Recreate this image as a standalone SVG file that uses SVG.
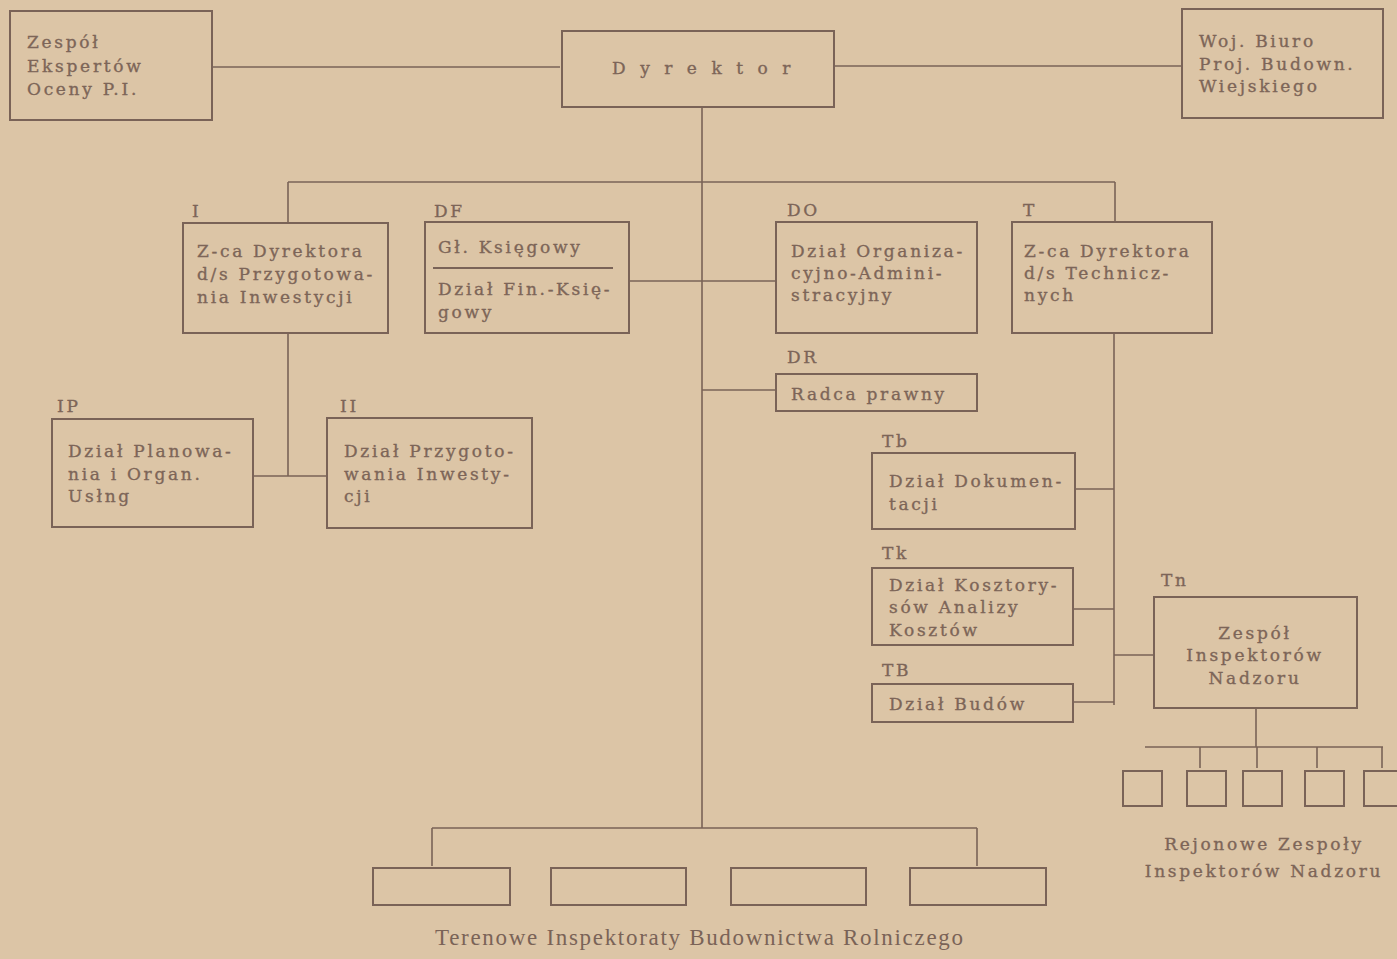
<svg xmlns="http://www.w3.org/2000/svg" width="1397" height="959" viewBox="0 0 1397 959">
<style>
.b{fill:none;stroke:#7a6357;stroke-width:2}
.c{fill:none;stroke:#7a6357;stroke-width:1.6}
.t{font-family:"DejaVu Serif","Liberation Serif",serif;font-size:17px;fill:#7d6558;stroke:#7d6558;stroke-width:0.35;letter-spacing:2.7px}
.m{text-anchor:middle}
</style>
<rect x="0" y="0" width="1397" height="959" fill="#dcc5a6"/>
<g id="connectors" class="c">
<path d="M212 67H560"/>
<path d="M834 66H1182"/>
<path d="M702 107V828"/>
<path d="M288 182H1115"/>
<path d="M288 182V222M1115 182V222"/>
<path d="M629 281H777"/>
<path d="M702 390H776"/>
<path d="M288 333V476M253 476H327"/>
<path d="M1114 333V705"/>
<path d="M1075 489H1114M1073 609H1114M1073 702H1114M1114 655H1154"/>
<path d="M1256 708V747M1145 747H1383"/>
<path d="M1200 747V768M1257 747V768M1317 747V768M1382 747V768"/>
<path d="M432 828H977M432 828V866M977 828V866"/>
</g>
<g id="zespol-ekspertow">
<rect class="b" x="10" y="11" width="202" height="109"/>
<text class="t" x="27" y="48">Zespół</text>
<text class="t" x="27" y="72">Ekspertów</text>
<text class="t" x="27" y="95">Oceny P.I.</text>
</g>
<g id="dyrektor">
<rect class="b" x="562" y="31" width="272" height="76"/>
<text class="t" x="612" y="74" style="letter-spacing:14.5px">Dyrektor</text>
</g>
<g id="woj-biuro">
<rect class="b" x="1182" y="9" width="201" height="109"/>
<text class="t" x="1199" y="47">Woj. Biuro</text>
<text class="t" x="1199" y="70">Proj. Budown.</text>
<text class="t" x="1199" y="92">Wiejskiego</text>
</g>
<g id="I">
<text class="t" x="192" y="217">I</text>
<rect class="b" x="183" y="223" width="205" height="110"/>
<text class="t" x="197" y="257">Z-ca Dyrektora</text>
<text class="t" x="197" y="280">d/s Przygotowa-</text>
<text class="t" x="197" y="303">nia Inwestycji</text>
</g>
<g id="DF">
<text class="t" x="434" y="217">DF</text>
<rect class="b" x="425" y="222" width="204" height="111"/>
<path class="b" d="M433 268H613"/>
<text class="t" x="438" y="253">Gł. Księgowy</text>
<text class="t" x="438" y="295">Dział Fin.-Księ-</text>
<text class="t" x="438" y="318">gowy</text>
</g>
<g id="DO">
<text class="t" x="787" y="216">DO</text>
<rect class="b" x="776" y="222" width="201" height="111"/>
<text class="t" x="791" y="257">Dział Organiza-</text>
<text class="t" x="791" y="279">cyjno-Admini-</text>
<text class="t" x="791" y="301">stracyjny</text>
</g>
<g id="T">
<text class="t" x="1023" y="216">T</text>
<rect class="b" x="1012" y="222" width="200" height="111"/>
<text class="t" x="1024" y="257">Z-ca Dyrektora</text>
<text class="t" x="1024" y="279">d/s Technicz-</text>
<text class="t" x="1024" y="301">nych</text>
</g>
<g id="DR">
<text class="t" x="787" y="363">DR</text>
<rect class="b" x="776" y="374" width="201" height="37"/>
<text class="t" x="791" y="400">Radca prawny</text>
</g>
<g id="IP">
<text class="t" x="57" y="412">IP</text>
<rect class="b" x="52" y="419" width="201" height="108"/>
<text class="t" x="68" y="457">Dział Planowa-</text>
<text class="t" x="68" y="480">nia i Organ.</text>
<text class="t" x="68" y="502">Usłng</text>
</g>
<g id="II">
<text class="t" x="340" y="412">II</text>
<rect class="b" x="327" y="418" width="205" height="110"/>
<text class="t" x="344" y="457">Dział Przygoto-</text>
<text class="t" x="344" y="480">wania Inwesty-</text>
<text class="t" x="344" y="502">cji</text>
</g>
<g id="Tb">
<text class="t" x="882" y="447">Tb</text>
<rect class="b" x="872" y="453" width="203" height="76"/>
<text class="t" x="889" y="487">Dział Dokumen-</text>
<text class="t" x="889" y="510">tacji</text>
</g>
<g id="Tk">
<text class="t" x="882" y="559">Tk</text>
<rect class="b" x="872" y="568" width="201" height="77"/>
<text class="t" x="889" y="591">Dział Kosztory-</text>
<text class="t" x="889" y="613">sów Analizy</text>
<text class="t" x="889" y="636">Kosztów</text>
</g>
<g id="TB">
<text class="t" x="882" y="676">TB</text>
<rect class="b" x="872" y="684" width="201" height="38"/>
<text class="t" x="889" y="710">Dział Budów</text>
</g>
<g id="Tn">
<text class="t" x="1161" y="586">Tn</text>
<rect class="b" x="1154" y="597" width="203" height="111"/>
<text class="t m" x="1255" y="639">Zespół</text>
<text class="t m" x="1255" y="661">Inspektorów</text>
<text class="t m" x="1255" y="684">Nadzoru</text>
</g>
<g id="rejonowe">
<rect class="b" x="1123" y="771" width="39" height="35"/>
<rect class="b" x="1187" y="771" width="39" height="35"/>
<rect class="b" x="1243" y="771" width="39" height="35"/>
<rect class="b" x="1305" y="771" width="39" height="35"/>
<rect class="b" x="1364" y="771" width="39" height="35"/>
<text class="t m" x="1264" y="850">Rejonowe Zespoły</text>
<text class="t m" x="1264" y="877">Inspektorów Nadzoru</text>
</g>
<g id="terenowe">
<rect class="b" x="373" y="868" width="137" height="37"/>
<rect class="b" x="551" y="868" width="135" height="37"/>
<rect class="b" x="731" y="868" width="135" height="37"/>
<rect class="b" x="910" y="868" width="136" height="37"/>
<text x="699" y="945" text-anchor="middle" textLength="528" lengthAdjust="spacing" style="font-family:'Liberation Serif',serif;font-size:23px;fill:#7a6357">Terenowe Inspektoraty Budownictwa Rolniczego</text>
</g>
</svg>
